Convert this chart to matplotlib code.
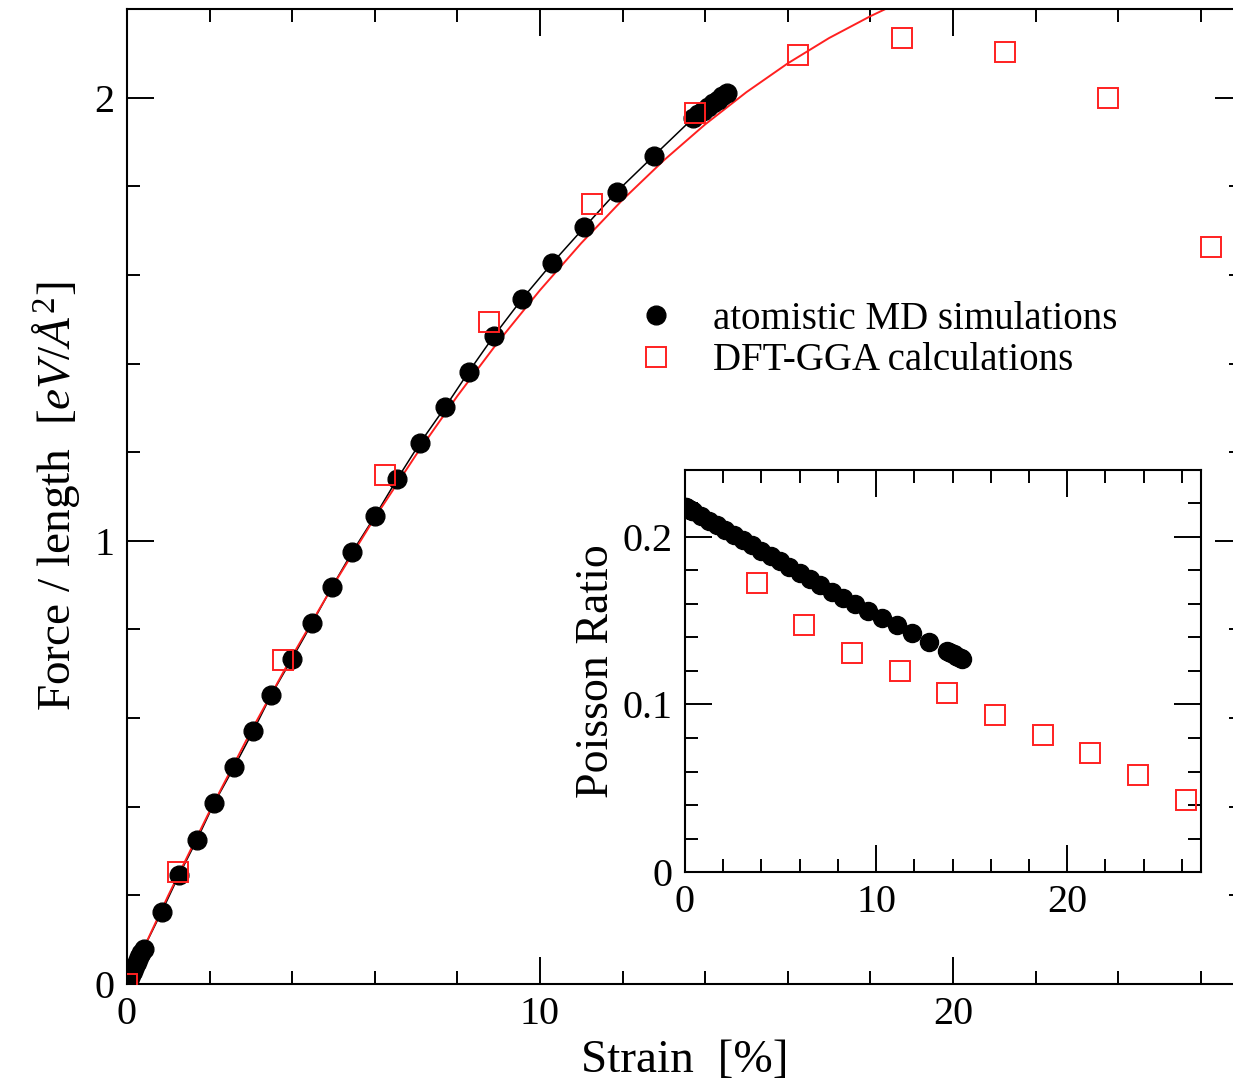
#Force/length vs strain with Poisson ratio inset

#-----Required Packages-----#
import matplotlib
matplotlib.use('Agg')
import matplotlib.pyplot as plt
from matplotlib.ticker import MultipleLocator

plt.rcParams['font.family'] = ['Liberation Serif', 'DejaVu Serif']
plt.rcParams['mathtext.fontset'] = 'custom'
plt.rcParams['mathtext.rm'] = 'Liberation Serif'
plt.rcParams['mathtext.it'] = 'Liberation Serif:italic'

#-----Data-----#
md_strain = [0.0, 0.05, 0.1, 0.15, 0.2, 0.25, 0.3, 0.35, 0.4, 0.84, 1.26, 1.69, 2.11,
             2.59, 3.05, 3.49, 3.99, 4.48, 4.96, 5.45, 6.00, 6.54, 7.09, 7.70, 8.28,
             8.89, 9.56, 10.29, 11.07, 11.86, 12.76, 13.70, 13.82, 13.94, 14.06,
             14.18, 14.30, 14.42, 14.52]
md_force = [0.0, 0.01, 0.02, 0.03, 0.04, 0.05, 0.06, 0.07, 0.08, 0.163, 0.246, 0.325,
            0.408, 0.489, 0.570, 0.652, 0.733, 0.814, 0.895, 0.974, 1.055, 1.139,
            1.220, 1.301, 1.382, 1.463, 1.545, 1.626, 1.707, 1.788, 1.869, 1.953,
            1.962, 1.970, 1.979, 1.987, 1.995, 2.004, 2.011]
md_poisson = [0.218, 0.2177, 0.2173, 0.2170, 0.2167, 0.2164, 0.2160, 0.2157, 0.2154,
              0.2125, 0.2097, 0.2069, 0.2041, 0.2010, 0.1980, 0.1951, 0.1918, 0.1886,
              0.1854, 0.1822, 0.1786, 0.1750, 0.1714, 0.1674, 0.1636, 0.1600, 0.1561,
              0.1519, 0.1473, 0.1427, 0.1375, 0.1320, 0.1313, 0.1306, 0.1299, 0.1292,
              0.1285, 0.1278, 0.1272]

dft_strain = [0.0, 1.23, 3.78, 6.25, 8.77, 11.26, 13.75, 16.25, 18.77, 21.26, 23.75, 26.25]
dft_force = [0.0, 0.253, 0.731, 1.148, 1.493, 1.761, 1.966, 2.097, 2.135, 2.104, 2.000, 1.662]

dft_p_strain = [3.75, 6.25, 8.74, 11.24, 13.71, 16.2, 18.72, 21.21, 23.71, 26.2]
dft_poisson = [0.1726, 0.1473, 0.1306, 0.1199, 0.1071, 0.0937, 0.0819, 0.0710, 0.0582, 0.0430]

fit_strain = [0, 1, 2, 3, 4, 5, 6, 7, 8, 9, 10, 11, 12, 13, 14, 15, 16, 17, 18, 18.4]
fit_force = [0.0, 0.1999, 0.3898, 0.5699, 0.7401, 0.9008, 1.0521, 1.1940, 1.3268,
             1.4506, 1.5655, 1.6717, 1.7694, 1.8586, 1.9396, 2.0124, 2.0773, 2.1344,
             2.1837, 2.2014]

W, H = 1233, 1081
fig = plt.figure(figsize=(W/100, H/100), dpi=100)

def style(ax, fs):
    for s in ax.spines.values():
        s.set_linewidth(1.5)
    ax.tick_params(which='both', direction='in', top=True, right=True, width=1.4,
                   labelsize=fs, pad=9)
    ax.tick_params(which='major', length=19.5)
    ax.tick_params(which='minor', length=9.5)

#-----Main plot-----#
ax = fig.add_axes([127/W, 1-984/H, (1242-127)/W, (984-9)/H])
ax.plot(md_strain, md_force, '-', color='black', lw=1.1, zorder=2)
ax.plot(fit_strain, fit_force, '-', color='#ff2020', lw=1.4, zorder=2)
ax.plot(md_strain, md_force, 'o', color='black', ms=13.5, lw=0, zorder=3,
        label='atomistic MD simulations')
ax.plot(dft_strain, dft_force, 's', mfc='none', mec='#ff2020', mew=1.4, ms=14, lw=0,
        zorder=4, label='DFT-GGA calculations')
ax.set_xlim(0, 27)
ax.set_ylim(0, 2.2)
ax.xaxis.set_major_locator(MultipleLocator(10))
ax.xaxis.set_minor_locator(MultipleLocator(2))
ax.yaxis.set_major_locator(MultipleLocator(1))
ax.yaxis.set_minor_locator(MultipleLocator(0.2))
style(ax, 29)
ax.set_xlabel('Strain  [%]', fontsize=34, labelpad=4)
ax.set_ylabel(r'Force / length  [$eV/Å^2$]', fontsize=34, labelpad=9)
ax.legend(loc='center left', bbox_to_anchor=(637/W, 1-340/H),
          bbox_transform=fig.transFigure, frameon=False, fontsize=28,
          borderpad=0, borderaxespad=0, handlelength=1.0, handletextpad=0.95,
          labelspacing=0.12, markerscale=1.0)

#-----Inset: Poisson ratio-----#
ax2 = fig.add_axes([685/W, 1-872/H, (1201-685)/W, (872-470)/H])
ax2.plot(md_strain, md_poisson, 'o', color='black', ms=13, lw=0)
ax2.plot(dft_p_strain, dft_poisson, 's', mfc='none', mec='#ff2020', mew=1.4, ms=14, lw=0)
ax2.set_xlim(0, 27)
ax2.set_ylim(0, 0.24)
ax2.xaxis.set_major_locator(MultipleLocator(10))
ax2.xaxis.set_minor_locator(MultipleLocator(2))
ax2.yaxis.set_minor_locator(MultipleLocator(0.02))
ax2.set_yticks([0, 0.1, 0.2])
ax2.set_yticklabels(['0', '0.1', '0.2'])
style(ax2, 29)
ax2.set_ylabel('Poisson Ratio', fontsize=33, labelpad=3)

fig.savefig('out.png', dpi=100)
